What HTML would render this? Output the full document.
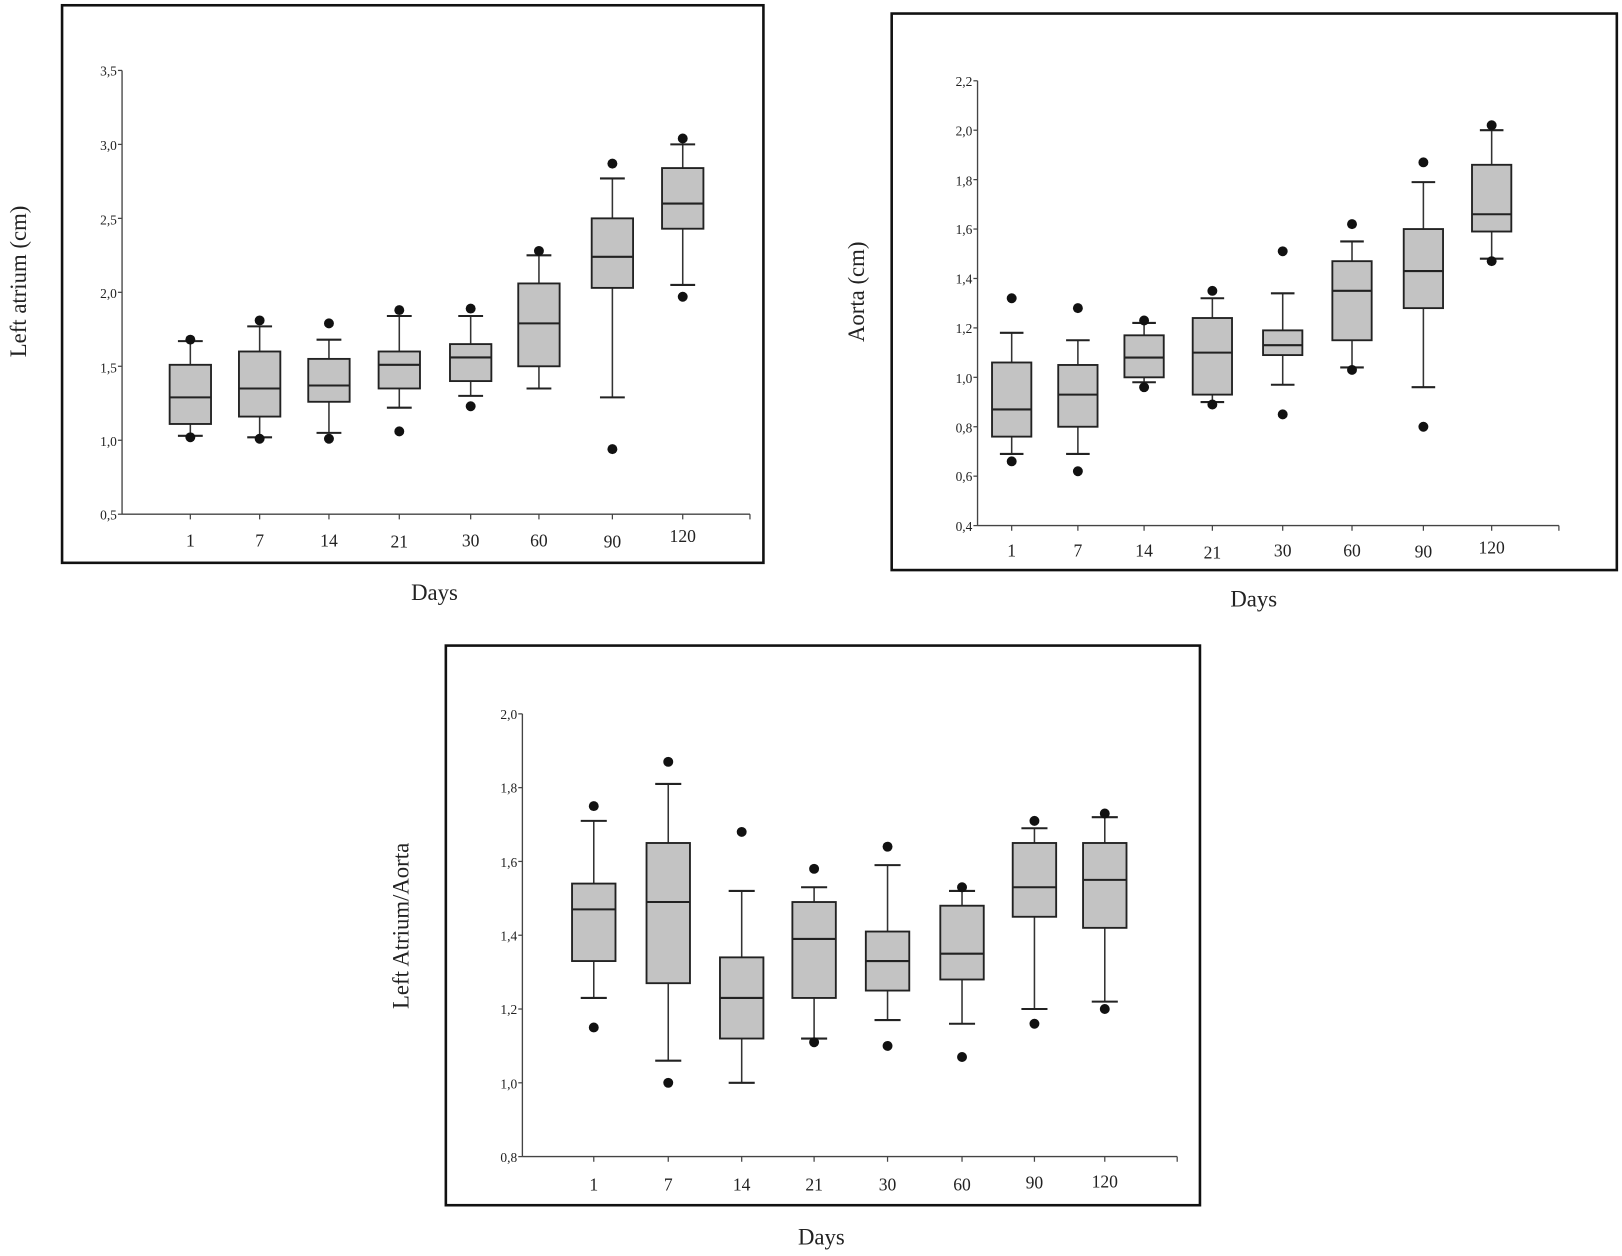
<!DOCTYPE html>
<html><head><meta charset="utf-8"><style>
html,body{margin:0;padding:0;background:#fff}
svg{display:block}
text{font-family:"Liberation Serif",serif;fill:#222}
.tk{font-family:"Liberation Sans",sans-serif;font-size:13px;fill:#222}
.cat{font-size:17px;text-anchor:middle}
.ttl{font-size:22px;text-anchor:middle}
</style></head><body>
<svg id="s" width="1622" height="1256" viewBox="0 0 1568 1214" xmlns="http://www.w3.org/2000/svg">
<rect x="60" y="5" width="678" height="539" fill="none" stroke="#111" stroke-width="2.5"/>
<rect x="862" y="13" width="701" height="538" fill="none" stroke="#111" stroke-width="2.5"/>
<rect x="431" y="624" width="729" height="541" fill="none" stroke="#111" stroke-width="2.5"/>
<g id="g"></g>
<g class="tk" text-anchor="end">
<text x="113" y="73">3,5</text><text x="113" y="145">3,0</text><text x="113" y="217">2,5</text><text x="113" y="288">2,0</text><text x="113" y="360">1,5</text><text x="113" y="431">1,0</text><text x="113" y="502">0,5</text>
</g>
<g class="cat"><text x="184" y="528">1</text><text x="251" y="528">7</text><text x="318" y="528">14</text><text x="386" y="529">21</text><text x="455" y="528">30</text><text x="521" y="528">60</text><text x="592" y="529">90</text><text x="660" y="524">120</text></g>
<text class="ttl" x="420" y="580">Days</text>
<text class="ttl" transform="translate(25,272) rotate(-90)">Left atrium (cm)</text>
<g class="tk" text-anchor="end">
<text x="940" y="83">2,2</text><text x="940" y="131">2,0</text><text x="940" y="179">1,8</text><text x="940" y="226">1,6</text><text x="940" y="274">1,4</text><text x="940" y="322">1,2</text><text x="940" y="370">1,0</text><text x="940" y="418">0,8</text><text x="940" y="465">0,6</text><text x="940" y="513">0,4</text>
</g>
<g class="cat"><text x="978" y="538">1</text><text x="1042" y="538">7</text><text x="1106" y="538">14</text><text x="1172" y="540">21</text><text x="1240" y="538">30</text><text x="1307" y="538">60</text><text x="1376" y="539">90</text><text x="1442" y="535">120</text></g>
<text class="ttl" x="1212" y="586">Days</text>
<text class="ttl" transform="translate(835,282) rotate(-90)">Aorta (cm)</text>
<g class="tk" text-anchor="end">
<text x="500" y="695">2,0</text><text x="500" y="766">1,8</text><text x="500" y="838">1,6</text><text x="500" y="909">1,4</text><text x="500" y="980">1,2</text><text x="500" y="1052">1,0</text><text x="500" y="1123">0,8</text>
</g>
<g class="cat"><text x="574" y="1151">1</text><text x="646" y="1151">7</text><text x="717" y="1151">14</text><text x="787" y="1151">21</text><text x="858" y="1151">30</text><text x="930" y="1151">60</text><text x="1000" y="1149">90</text><text x="1068" y="1148">120</text></g>
<text class="ttl" x="794" y="1203">Days</text>
<text class="ttl" transform="translate(395,895) rotate(-90)">Left Atrium/Aorta</text>
</svg>
<script>
var NS="http://www.w3.org/2000/svg",g=document.getElementById("g");
function el(t,a){var e=document.createElementNS(NS,t);for(var k in a)e.setAttribute(k,a[k]);g.appendChild(e);return e;}
function chart(c){
 var Y=function(v){return c.y0+(v-c.v0)*(c.y1-c.y0)/(c.v1-c.v0);};
 el("line",{x1:c.ax,y1:c.y1,x2:c.ax,y2:c.y0,stroke:"#444","stroke-width":1.3});
 el("line",{x1:c.ax,y1:c.y0,x2:c.xe,y2:c.y0,stroke:"#444","stroke-width":1.3});
 for(var v=c.v0;v<=c.v1+1e-6;v+=c.st)el("line",{x1:c.ax-4,y1:Y(v),x2:c.ax,y2:Y(v),stroke:"#444","stroke-width":1.2});
 el("line",{x1:c.xe,y1:c.y0,x2:c.xe,y2:c.y0+5,stroke:"#444","stroke-width":1.2});
 c.xs.forEach(function(x,i){
  el("line",{x1:x,y1:c.y0,x2:x,y2:c.y0+5,stroke:"#444","stroke-width":1.2});
  var d=c.d[i],w=c.w,h=w/2;
  el("line",{x1:x,y1:Y(d[0]),x2:x,y2:Y(d[4]),stroke:"#333","stroke-width":1.5});
  el("line",{x1:x-w*0.3,y1:Y(d[0]),x2:x+w*0.3,y2:Y(d[0]),stroke:"#222","stroke-width":2});
  el("line",{x1:x-w*0.3,y1:Y(d[4]),x2:x+w*0.3,y2:Y(d[4]),stroke:"#222","stroke-width":2});
  el("rect",{x:x-h,y:Y(d[1]),width:w,height:Y(d[3])-Y(d[1]),fill:"#c3c3c3",stroke:"#222","stroke-width":1.8});
  el("line",{x1:x-h,y1:Y(d[2]),x2:x+h,y2:Y(d[2]),stroke:"#222","stroke-width":2});
  (d[5]||[]).forEach(function(o){el("circle",{cx:x,cy:Y(o),r:4.8,fill:"#111"});});
 });
}
chart({ax:118,xe:725,y0:497,y1:68,v0:0.5,v1:3.5,st:0.5,w:40,
 xs:[184,251,318,386,455,521,592,660],
 d:[[1.67,1.51,1.29,1.11,1.03,[1.68,1.02]],[1.77,1.60,1.35,1.16,1.02,[1.81,1.01]],[1.68,1.55,1.37,1.26,1.05,[1.79,1.01]],[1.84,1.60,1.51,1.35,1.22,[1.88,1.06]],[1.84,1.65,1.56,1.40,1.30,[1.89,1.23]],[2.25,2.06,1.79,1.50,1.35,[2.28]],[2.77,2.50,2.24,2.03,1.29,[2.87,0.94]],[3.0,2.84,2.60,2.43,2.05,[3.04,1.97]]]});
chart({ax:945,xe:1507,y0:508,y1:78,v0:0.4,v1:2.2,st:0.2,w:38,
 xs:[978,1042,1106,1172,1240,1307,1376,1442],
 d:[[1.18,1.06,0.87,0.76,0.69,[1.32,0.66]],[1.15,1.05,0.93,0.80,0.69,[1.28,0.62]],[1.22,1.17,1.08,1.0,0.98,[1.23,0.96]],[1.32,1.24,1.10,0.93,0.90,[1.35,0.89]],[1.34,1.19,1.13,1.09,0.97,[1.51,0.85]],[1.55,1.47,1.35,1.15,1.04,[1.62,1.03]],[1.79,1.60,1.43,1.28,0.96,[1.87,0.80]],[2.0,1.86,1.66,1.59,1.48,[2.02,1.47]]]});
chart({ax:505,xe:1138,y0:1118,y1:690,v0:0.8,v1:2.0,st:0.2,w:42,
 xs:[574,646,717,787,858,930,1000,1068],
 d:[[1.71,1.54,1.47,1.33,1.23,[1.75,1.15]],[1.81,1.65,1.49,1.27,1.06,[1.87,1.00]],[1.52,1.34,1.23,1.12,1.0,[1.68]],[1.53,1.49,1.39,1.23,1.12,[1.58,1.11]],[1.59,1.41,1.33,1.25,1.17,[1.64,1.10]],[1.52,1.48,1.35,1.28,1.16,[1.53,1.07]],[1.69,1.65,1.53,1.45,1.20,[1.71,1.16]],[1.72,1.65,1.55,1.42,1.22,[1.73,1.20]]]});
</script>
</body></html>
